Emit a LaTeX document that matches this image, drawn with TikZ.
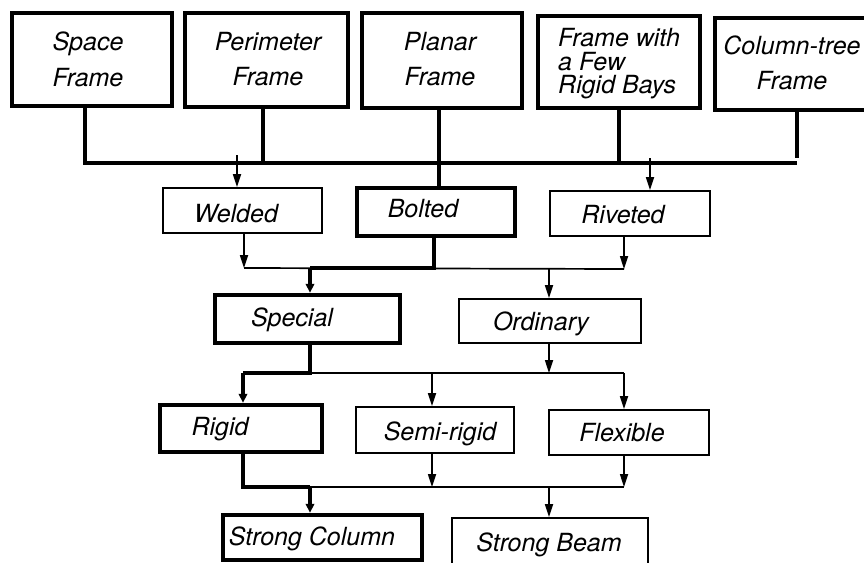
\documentclass[tikz,border=0pt]{standalone}
\usepackage{fontspec}
\setmainfont{TeX Gyre Heros}
\usetikzlibrary{arrows.meta}
\begin{document}
\begin{tikzpicture}[x=1pt,y=-1pt,
  thickbox/.style={draw,line width=4.5pt,inner sep=0pt},
  thinbox/.style={draw,line width=1.7pt,inner sep=0pt},
  lbl/.style={anchor=base,inner sep=0pt,font=\fontsize{25}{29}\selectfont\itshape},
  thickline/.style={line width=4.5pt},
  thinline/.style={line width=1.7pt},
  arr/.style={line width=1.7pt,-{Triangle[length=13pt,width=8pt]}},
  tarr/.style={line width=4.5pt,-{Triangle[length=9pt,width=8.5pt]}}
]
\useasboundingbox (0,0) rectangle (864,562);
\clip (0,0) rectangle (864,562);
\fill[white] (0,0) rectangle (864,562);

% top row
\node[thickbox,minimum width=160pt,minimum height=93pt] (space) at (92,59.5) {};
\node[thickbox,minimum width=163pt,minimum height=94pt] (perim) at (266.5,60) {};
\node[thickbox,minimum width=160pt,minimum height=95pt] (planar) at (442,60.5) {};
\node[thickbox,minimum width=162pt,minimum height=92pt] (bays) at (619,62) {};
\node[thickbox,minimum width=165pt,minimum height=92pt] (ctree) at (797.5,64) {};

\node[lbl] (space1) at (88,50.5) {Space};
\node[lbl] (space2) at (88,86) {Frame};
\node[lbl] (perim1) at (268,50) {Perimeter};
\node[lbl] (perim2) at (268,85) {Frame};
\node[lbl] (planar1) at (440,50) {Planar};
\node[lbl] (planar2) at (440,85) {Frame};
\node[inner sep=0pt,anchor=north west,align=left,
      font=\fontsize{25}{23.5}\selectfont\itshape] (bayst) at (558,28.5)
      {Frame with\\a Few\\Rigid Bays};
\node[lbl] (ctree1) at (792,54) {Column-tree};
\node[lbl] (ctree2) at (792,89.5) {Frame};

% second row
\node[thinbox,minimum width=159pt,minimum height=45pt] (welded) at (242.5,210.5) {};
\node[thickbox,minimum width=158pt,minimum height=48pt] (bolted) at (436,212) {};
\node[thinbox,minimum width=160pt,minimum height=45pt] (riveted) at (630,213.5) {};
\node[lbl] (weldedt) at (236,222) {Welded};
\node[lbl] (boltedt) at (423,217.5) {Bolted};
\node[lbl] (rivetedt) at (623,223) {Riveted};

% third row
\node[thickbox,minimum width=185pt,minimum height=48pt] (special) at (307.5,319) {};
\node[thinbox,minimum width=182pt,minimum height=44pt] (ordinary) at (550,321) {};
\node[lbl] (specialt) at (292,326) {Special};
\node[lbl] (ordinaryt) at (541,330) {Ordinary};

% fourth row
\node[thickbox,minimum width=162pt,minimum height=47pt] (rigid) at (241,428.5) {};
\node[thinbox,minimum width=158pt,minimum height=46pt] (semi) at (435,430) {};
\node[thinbox,minimum width=160pt,minimum height=45pt] (flex) at (629,432.5) {};
\node[lbl] (rigidt) at (220,435) {Rigid};
\node[lbl] (semit) at (440,440.5) {Semi-rigid};
\node[lbl] (flext) at (622,441.5) {Flexible};

% bottom row
\node[thickbox,minimum width=199pt,minimum height=45pt] (scol) at (322.5,537.5) {};
\node[thinbox,minimum width=196pt,minimum height=57pt] (sbeam) at (550,546.5) {};
\node[lbl] (scolt) at (312,545.5) {Strong Column};
\node[lbl] (sbeamt) at (549,551.5) {Strong Beam};

% junction coordinates
\coordinate (b1a) at (85,163);
\coordinate (b1b) at (263,163);
\coordinate (b1c) at (439,163);
\coordinate (b1d) at (619,163);
\coordinate (b1e) at (797,163);
\coordinate (w0) at (237,155);
\coordinate (r0) at (650,158);

\coordinate (j2w) at (244,268);
\coordinate (j2b) at (434,268);
\coordinate (j2s) at (310,268);
\coordinate (j2o) at (549,269);
\coordinate (j2r) at (624,269);

\coordinate (j3s) at (310,373);
\coordinate (j3r) at (243,373);
\coordinate (j3m) at (432,373);
\coordinate (j3o) at (549,373);
\coordinate (j3f) at (624,373);

\coordinate (j4r) at (243,487);
\coordinate (j4c) at (310,487);
\coordinate (j4m) at (432,487);
\coordinate (j4b) at (549,487);
\coordinate (j4f) at (624,487);

% level 1: frames to bus
\draw[thickline] (b1a |- space.south) -- (b1a) -- (b1e);
\draw[thickline] (b1b |- perim.south) -- (b1b);
\draw[thickline] (b1c |- planar.south) -- (b1c |- bolted.north);
\draw[thickline] (b1d |- bays.south) -- (b1d);
\draw[thickline] (b1e |- ctree.south) -- ([yshift=5pt]b1e);
\draw[arr] (w0) -- (w0 |- welded.north);
\draw[arr] (r0) -- (r0 |- riveted.north);

% level 2
\draw[arr] (j2w |- welded.south) -- (j2w);
\draw[thinline] (j2w) -- (j2r);
\draw[arr] (j2r |- riveted.south) -- (j2r);
\draw[arr] (j2o) -- (j2o |- ordinary.north);
\draw[thickline] (j2b |- bolted.south) -- (j2b) -- (j2s);
\draw[tarr] (j2s) -- (j2s |- special.north);

% level 3
\draw[thinline] (j3s) -- (j3f);
\draw[arr] (j3o |- ordinary.south) -- (j3o);
\draw[arr] (j3m) -- (j3m |- semi.north);
\draw[arr] (j3f) -- (j3f |- flex.north);
\draw[thickline] (j3s |- special.south) -- (j3s) -- (j3r);
\draw[tarr] (j3r) -- (j3r |- rigid.north);

% level 4
\draw[thinline] (j4c) -- (j4f);
\draw[arr] (j4m |- semi.south) -- (j4m);
\draw[arr] (j4f |- flex.south) -- (j4f);
\draw[arr] (j4b) -- (j4b |- sbeam.north);
\draw[thickline] (j4r |- rigid.south) -- (j4r) -- (j4c);
\draw[tarr] (j4c) -- (j4c |- scol.north);
\end{tikzpicture}
\end{document}
